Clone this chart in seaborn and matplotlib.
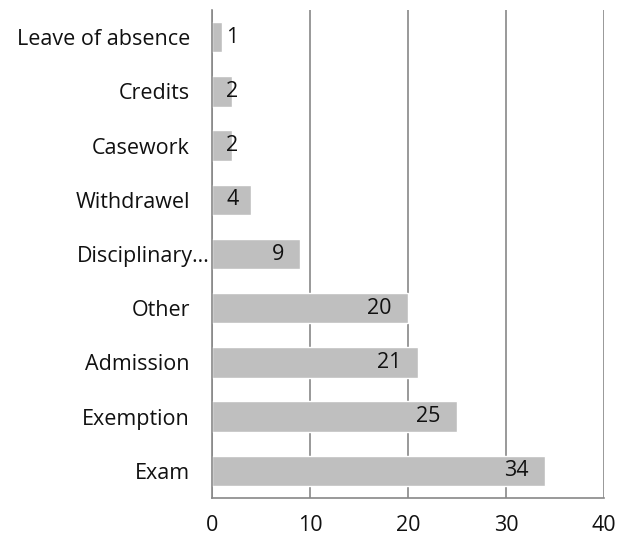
import matplotlib.pyplot as plt
import matplotlib.transforms as mtransforms
import pandas as pd
import seaborn as sns

CATEGORIES = [
    "Leave of absence", "Credits", "Casework", "Withdrawel", "Disciplinary\u2026",
    "Other", "Admission", "Exemption", "Exam",
]
COUNTS = [1, 2, 2, 4, 9, 20, 21, 25, 34]
X_TICKS = [0, 10, 20, 30, 40]

BAR_COLOR = "#bfbfbf"
GRID_COLOR = "#888888"
TEXT_COLOR = "#111111"


def main() -> None:
    sns.set_theme(style="white")
    plt.rcParams["font.family"] = ["Open Sans", "DejaVu Sans"]

    df = pd.DataFrame({"category": CATEGORIES, "count": COUNTS})

    fig, ax = plt.subplots(figsize=(6.21, 5.38), dpi=100)
    fig.subplots_adjust(left=212 / 621, right=604 / 621, top=1 - 10 / 538, bottom=1 - 498 / 538)

    sns.barplot(data=df, x="count", y="category", color=BAR_COLOR, width=0.56,
                saturation=1, ax=ax, order=CATEGORIES)

    ax.set_xlim(0, 40)
    ax.set_ylim(8.5, -0.5)
    ax.set_xticks(X_TICKS)
    ax.xaxis.grid(True, color=GRID_COLOR, linewidth=1.2)
    ax.set_axisbelow(True)
    ax.set_xlabel("")
    ax.set_ylabel("")
    ax.tick_params(axis="both", length=0, labelsize=15.5, colors=TEXT_COLOR)
    ax.tick_params(axis="x", pad=12)
    ax.tick_params(axis="y", pad=16)

    # the truncated label sits right against the axis, like in the original
    for label in ax.get_yticklabels():
        if label.get_text().endswith("\u2026"):
            shift = mtransforms.ScaledTranslation(20 / 100, 0, fig.dpi_scale_trans)
            label.set_transform(label.get_transform() + shift)

    for side in ("top", "right"):
        ax.spines[side].set_visible(False)
    for side in ("left", "bottom"):
        ax.spines[side].set_color(GRID_COLOR)
        ax.spines[side].set_linewidth(1.2)

    for i, value in enumerate(COUNTS):
        x = max(value - 1.65, 2.7)
        ax.text(x, i, str(value), ha="right", va="center", fontsize=15.5, color=TEXT_COLOR)

    fig.savefig("out.png", dpi=100)
    plt.close(fig)


if __name__ == "__main__":
    main()
